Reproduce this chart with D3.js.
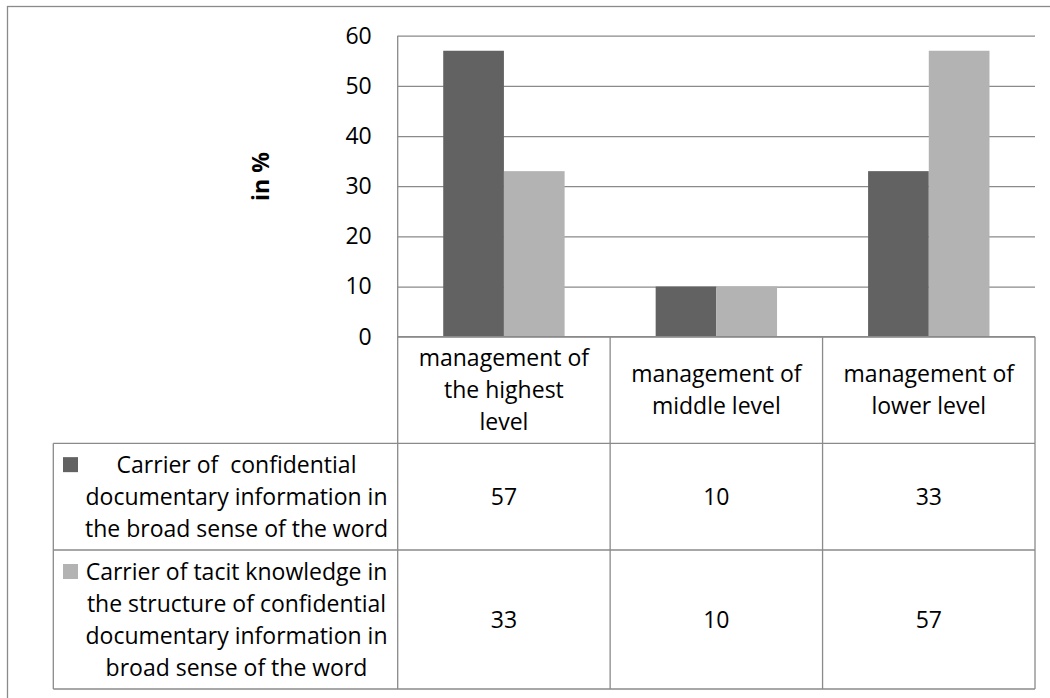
<!DOCTYPE html>
<html>
<head>
<meta charset="utf-8">
<script src="https://cdn.jsdelivr.net/npm/d3@7"></script>
<style>
  body { margin: 0; background: #fff; }
  svg text { font-family: "Open Sans", "Noto Sans", sans-serif; fill: #000; white-space: pre; }
</style>
</head>
<body>
<div id="chart"></div>
<script>
// data
const categories = ['highest', 'middle', 'lower'];
const categoryLines = [
  ['management of', 'the highest', 'level'],
  ['management of', 'middle level'],
  ['management of', 'lower level']
];
const seriesKeys = ['documentary', 'tacit'];
const seriesLines = [
  ['Carrier of  confidential', 'documentary information in', 'the broad sense of the word'],
  ['Carrier of tacit knowledge in', 'the structure of confidential', 'documentary information in', 'broad sense of the word']
];
const documentaryValues = [57, 10, 33];
const tacitValues = [33, 10, 57];
const yTicks = [0, 10, 20, 30, 40, 50, 60];
const yTitle = 'in %';

const W = 1050, H = 698;
const FONT = 23;
const LH = 32;
const colors = { documentary: '#626262', tacit: '#b3b3b3' };
const lineColor = '#8a8a8a';

// plot + table geometry
const plot = { left: 397.7, right: 1035, top: 35.7, bottom: 336.7 };
const table = { left: 53.3, rows: [336.7, 443.3, 550, 689] };

const values = { documentary: documentaryValues, tacit: tacitValues };

const svg = d3.select('#chart').append('svg')
  .attr('width', W)
  .attr('height', H);

// outer chart frame (cut off at right and bottom)
svg.append('rect')
  .attr('x', 7.5).attr('y', 6.5)
  .attr('width', W + 20).attr('height', H + 20)
  .attr('fill', 'none')
  .attr('stroke', lineColor)
  .attr('stroke-width', 1.3);

const x0 = d3.scaleBand()
  .domain(categories)
  .range([plot.left, plot.right]);

const x1 = d3.scaleBand()
  .domain(seriesKeys)
  .range([0, x0.bandwidth()])
  .paddingOuter(0.75);

const y = d3.scaleLinear()
  .domain([0, 60])
  .range([plot.bottom, plot.top]);

// gridlines
const grid = svg.append('g')
  .attr('transform', `translate(${plot.left},0)`)
  .call(d3.axisLeft(y).tickValues(yTicks).tickSize(-(plot.right - plot.left)).tickFormat(''));
grid.select('.domain').remove();
grid.selectAll('line').attr('stroke', lineColor).attr('stroke-width', 1.3);

// bars
const groups = svg.append('g').selectAll('g')
  .data(categories)
  .join('g')
  .attr('transform', d => `translate(${x0(d)},0)`);

groups.selectAll('rect')
  .data((d, i) => seriesKeys.map(k => ({ key: k, value: values[k][i] })))
  .join('rect')
  .attr('x', d => x1(d.key))
  .attr('y', d => y(d.value))
  .attr('width', x1.bandwidth())
  .attr('height', d => y(0) - y(d.value))
  .attr('fill', d => colors[d.key]);

// tick labels
const yAxis = svg.append('g')
  .attr('transform', `translate(${plot.left},0)`)
  .call(d3.axisLeft(y).tickValues(yTicks).tickSize(0).tickPadding(26));
yAxis.select('.domain').remove();
yAxis.selectAll('text')
  .style('font-size', FONT + 'px')
  .style('font-family', '"Open Sans", sans-serif')
  .attr('fill', '#000');

// axis title
svg.append('text')
  .attr('transform', 'translate(261,176.5) rotate(-90)')
  .attr('text-anchor', 'middle')
  .attr('dy', '0.35em')
  .style('font-size', FONT + 'px')
  .style('font-weight', 'bold')
  .text(yTitle);

// ---- data table under the plot ----
const tbl = svg.append('g')
  .attr('stroke', lineColor)
  .attr('stroke-width', 1.3);

// left axis line runs through the table
tbl.append('line')
  .attr('x1', plot.left).attr('x2', plot.left)
  .attr('y1', plot.top).attr('y2', table.rows[3]);

// horizontal rules
table.rows.forEach((ry, i) => {
  tbl.append('line')
    .attr('x1', i === 0 ? plot.left : table.left).attr('x2', plot.right)
    .attr('y1', ry).attr('y2', ry);
});

// legend column left edge
tbl.append('line')
  .attr('x1', table.left).attr('x2', table.left)
  .attr('y1', table.rows[1]).attr('y2', table.rows[3]);

// category dividers and right edge
categories.forEach(c => {
  const xr = x0(c) + x0.bandwidth();
  tbl.append('line')
    .attr('x1', xr).attr('x2', xr)
    .attr('y1', table.rows[0]).attr('y2', table.rows[3]);
});

// multi-line centred text helper
function block(g, lines, cx, cy) {
  const n = lines.length;
  g.append('text')
    .attr('text-anchor', 'middle')
    .style('font-size', FONT + 'px')
    .selectAll('tspan')
    .data(lines)
    .join('tspan')
    .attr('x', cx)
    .attr('y', (d, i) => cy + (i - (n - 1) / 2) * LH)
    .attr('dy', '0.35em')
    .text(d => d);
}

const txt = svg.append('g');

// header row: categories
categories.forEach((c, i) => {
  block(txt, categoryLines[i], x0(c) + x0.bandwidth() / 2,
    (table.rows[0] + table.rows[1]) / 2);
});

// series rows
seriesKeys.forEach((k, r) => {
  const top = table.rows[r + 1], bot = table.rows[r + 2];
  const cy = (top + bot) / 2;
  const n = seriesLines[r].length;
  const firstLine = cy - (n - 1) / 2 * LH;

  // legend key
  svg.append('rect')
    .attr('x', 63).attr('y', firstLine - 7.5)
    .attr('width', 15).attr('height', 15)
    .attr('fill', colors[k]);

  block(txt, seriesLines[r], 236.5, cy);

  categories.forEach((c, i) => {
    block(txt, [String(values[k][i])], x0(c) + x0.bandwidth() / 2, cy);
  });
});
</script>
</body>
</html>
